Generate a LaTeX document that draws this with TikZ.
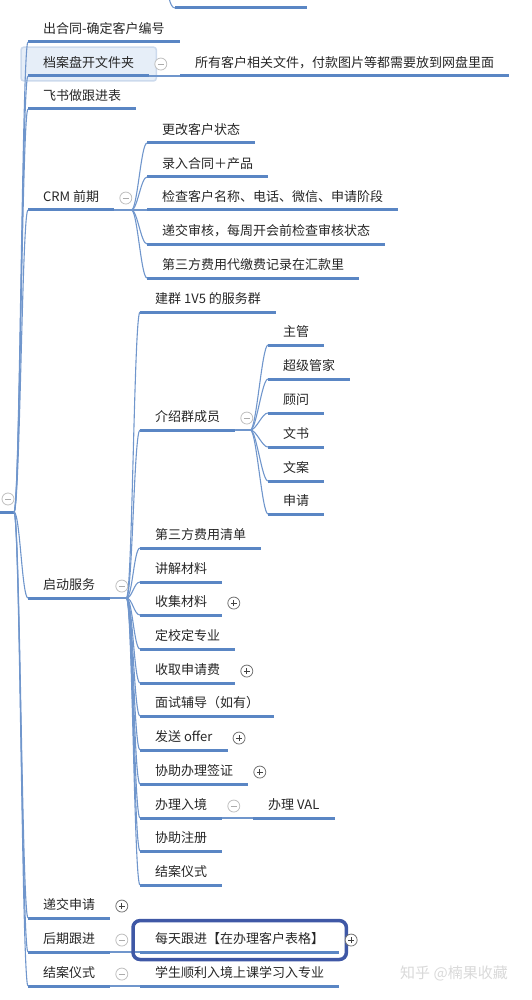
\documentclass[tikz,border=0pt]{standalone}
\usepackage{fontspec}
\setmainfont{Noto Sans CJK SC}
\usepackage{tikz}
\usetikzlibrary{positioning}
\usetikzlibrary{fit,backgrounds}

\definecolor{lineblue}{HTML}{5A86C4}
\definecolor{linkblue}{HTML}{7096CC}
\definecolor{markblue}{HTML}{3F58A6}
\definecolor{hlfill}{HTML}{E6EEF8}
\definecolor{hldraw}{HTML}{CCDAED}

\begin{document}
\begin{tikzpicture}[x=1pt, y=-1pt, node distance=5pt,
    topic/.style = {anchor=south west, inner xsep=15pt, inner ysep=5.5pt,
        text height=10pt, text depth=2.5pt, text=black!85,
        font=\fontsize{13}{15}\selectfont,
        append after command={(\tikzlastnode.south west) edge[uline] (\tikzlastnode.south east)}},
    uline/.style = {draw=lineblue, line width=3pt},
    link/.style = {draw=linkblue, line width=1.1pt,
        to path={-- ++(#1,0) .. controls +(6,0) and +(-6,0) .. (\tikztotarget)}},
    link/.default = 0,
    fold/.style = {circle, draw=gray!50, fill=white, line width=0.8pt, minimum size=12pt, inner sep=0pt,
        path picture={\draw[gray!65, line width=0.9pt]
            ([xshift=-3pt]path picture bounding box.center) -- ([xshift=3pt]path picture bounding box.center);}},
    unfold/.style = {circle, draw=gray!90!black, fill=white, line width=0.8pt, minimum size=12pt, inner sep=0pt,
        path picture={\draw[black!75, line width=0.9pt]
            ([xshift=-3pt]path picture bounding box.center) -- ([xshift=3pt]path picture bounding box.center)
            ([yshift=-3pt]path picture bounding box.center) -- ([yshift=3pt]path picture bounding box.center);}},
    hlbox/.style = {draw=hldraw, fill=hlfill, line width=1.5pt, rounded corners=3pt},
    markbox/.style = {draw=markblue, line width=3.5pt, rounded corners=7pt},
    stamp/.style = {text=gray!30, font=\fontsize{15}{17}\selectfont}]

    \useasboundingbox (0,0) rectangle (531,1000);
    \clip (0,0) rectangle (531,1000);

    % Root
    \coordinate (rootl) at (-4,512);
    \coordinate (root) at (14,512);
    \draw[uline] (rootl) -- (root);
    \node[fold] (rootb) at (8,499) {};

    % Cut-off item at the top
    \coordinate (topa) at (168,-6);
    \coordinate (topb) at (175,8);
    \coordinate (topc) at (307,8);
    \draw[link] (topa) to[out=90,in=180] (topb);
    \draw[uline] (topb) -- (topc);

    % First level
    \node[topic] (ht) at (28,42) {出合同-确定客户编号};
    \node[topic] (dap) at (28,76) {档案盘开文件夹};
    \node[topic] (fs) at (28,109) {飞书做跟进表};
    \node[topic] (crm) at (28,210) {CRM 前期};
    \node[topic] (qd) at (28,598) {启动服务};
    \node[topic] (dj) at (28,918) {递交申请};
    \node[topic] (hq) at (28,952) {后期跟进};
    \node[topic] (ja) at (28,986) {结案仪式};

    \begin{scope}[on background layer]
        \node[hlbox, fit=(dap), inner xsep=7pt, inner ysep=5pt] (dapbox) {};
    \end{scope}

    % Folder
    \node[topic] (wp) at (180,76) {所有客户相关文件，付款图片等都需要放到网盘里面};

    % CRM
    \node[topic] (c1) at (147,143) {更改客户状态};
    \node[topic] (c2) at (147,177) {录入合同＋产品};
    \node[topic] (c3) at (147,210) {检查客户名称、电话、微信、申请阶段};
    \node[topic] (c4) at (147,244) {递交审核，每周开会前检查审核状态};
    \node[topic] (c5) at (147,278) {第三方费用代缴费记录在汇款里};

    % Service start
    \node[topic] (s1) at (140,312) {建群 1V5 的服务群};
    \node[topic] (s2) at (140,430) {介绍群成员};
    \node[topic] (s3) at (140,548) {第三方费用清单};
    \node[topic] (s4) at (140,582) {讲解材料};
    \node[topic] (s5) at (140,615) {收集材料};
    \node[topic] (s6) at (140,649) {定校定专业};
    \node[topic] (s7) at (140,683) {收取申请费};
    \node[topic] (s8) at (140,716) {面试辅导（如有）};
    \node[topic] (s9) at (140,750) {发送 offer};
    \node[topic] (s10) at (140,784) {协助办理签证};
    \node[topic] (s11) at (140,818) {办理入境};
    \node[topic] (s12) at (140,851) {协助注册};
    \node[topic] (s13) at (140,885) {结案仪式};

    % Group members
    \node[topic] (m1) at (268,345) {主管};
    \node[topic] (m2) at (268,379) {超级管家};
    \node[topic] (m3) at (268,413) {顾问};
    \node[topic] (m4) at (268,447) {文书};
    \node[topic] (m5) at (268,481) {文案};
    \node[topic] (m6) at (268,514) {申请};

    \node[topic] (val) at (253,818) {办理 VAL};

    % Follow-up and closing
    \node[topic] (mt) at (140,952) {每天跟进【在办理客户表格】};
    \node[topic] (xr) at (140,986) {学生顺利入境上课学习入专业};

    % Edges
    \draw[link] (root) to (ht.south west);
    \draw[link] (root) to (dap.south west);
    \draw[link] (root) to (fs.south west);
    \draw[link] (root) to (crm.south west);
    \draw[link] (root) to (qd.south west);
    \draw[link] (root) to (dj.south west);
    \draw[link] (root) to (hq.south west);
    \draw[link] (root) to (ja.south west);

    \draw[link] (dap.south east) to (wp.south west);

    \draw[link=17] (crm.south east) to (c1.south west);
    \draw[link=17] (crm.south east) to (c2.south west);
    \draw[link=17] (crm.south east) to (c3.south west);
    \draw[link=17] (crm.south east) to (c4.south west);
    \draw[link=17] (crm.south east) to (c5.south west);

    \draw[link=16] (qd.south east) to (s1.south west);
    \draw[link=16] (qd.south east) to (s2.south west);
    \draw[link=16] (qd.south east) to (s3.south west);
    \draw[link=16] (qd.south east) to (s4.south west);
    \draw[link=16] (qd.south east) to (s5.south west);
    \draw[link=16] (qd.south east) to (s6.south west);
    \draw[link=16] (qd.south east) to (s7.south west);
    \draw[link=16] (qd.south east) to (s8.south west);
    \draw[link=16] (qd.south east) to (s9.south west);
    \draw[link=16] (qd.south east) to (s10.south west);
    \draw[link=16] (qd.south east) to (s11.south west);
    \draw[link=16] (qd.south east) to (s12.south west);
    \draw[link=16] (qd.south east) to (s13.south west);

    \draw[link=15] (s2.south east) to (m1.south west);
    \draw[link=15] (s2.south east) to (m2.south west);
    \draw[link=15] (s2.south east) to (m3.south west);
    \draw[link=15] (s2.south east) to (m4.south west);
    \draw[link=15] (s2.south east) to (m5.south west);
    \draw[link=15] (s2.south east) to (m6.south west);

    \draw[link] (s11.south east) to (val.south west);
    \draw[link] (hq.south east) to (mt.south west);
    \draw[link] (ja.south east) to (xr.south west);

    % Fold buttons
    \node[fold, right=of dap] (dapb) {};
    \node[fold, right=of crm] (crmb) {};
    \node[fold, right=of qd] (qdb) {};
    \node[fold, right=of s2] (s2b) {};
    \node[unfold, right=of s5] (s5b) {};
    \node[unfold, right=of s7] (s7b) {};
    \node[unfold, right=of s9] (s9b) {};
    \node[unfold, right=of s10] (s10b) {};
    \node[fold, right=of s11] (s11b) {};
    \node[unfold, right=of dj] (djb) {};
    \node[fold, right=of hq] (hqb) {};
    \node[fold, right=of ja] (jab) {};

    % Marked topic
    \node[markbox, fit=(mt), inner xsep=7pt, inner ysep=7.5pt] (mtbox) {};
    \node[unfold] (mtb) at ([xshift=3pt]mtbox.east) {};

    \node[stamp] (zh) at (454,973) {知乎 @楠果收藏};
\end{tikzpicture}
\end{document}
